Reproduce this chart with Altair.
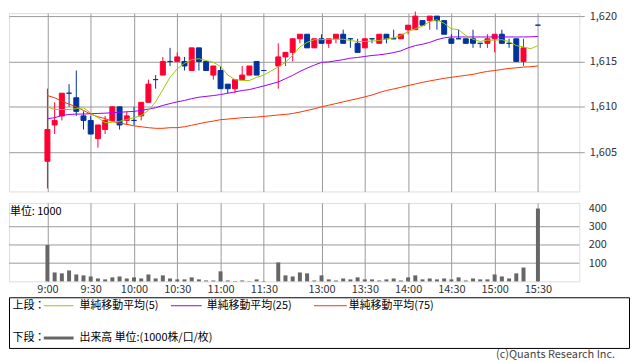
import altair as alt
import pandas as pd

FONT = "Noto Sans CJK JP"

# ---------------- data ----------------
candle_slots = list(range(0, 31)) + list(range(32, 67)) + [68]
opens = [1604, 1608, 1609, 1611.5, 1611, 1609, 1608.5, 1606.5, 1607.5, 1608.5,
         1610, 1608.5, 1608.5, 1609, 1610.5, 1613, 1613.5, 1615, 1615, 1615,
         1614, 1616.5, 1615, 1613.5, 1614, 1612.5, 1612, 1613, 1613.5, 1615,
         1614,
         1614.5, 1615.5, 1616, 1617.5, 1618, 1616.5, 1617.5, 1617, 1617.5, 1618,
         1617.5, 1617, 1616.5, 1617.5, 1617, 1618, 1617.5, 1617.5, 1618.5, 1618.5,
         1619.5, 1619.5, 1620, 1619.5, 1617.5, 1617.5, 1617.5, 1617.5, 1617, 1617,
         1617.5, 1618, 1617, 1617.5, 1615,
         1619]
highs = [1612, 1610.5, 1611.5, 1612.5, 1614, 1609.5, 1609, 1608, 1609, 1610,
         1610, 1609.5, 1610, 1610.5, 1613, 1613.5, 1615.5, 1616.5, 1616, 1615.5,
         1616.5, 1616.5, 1615, 1614.5, 1614.5, 1612.5, 1613, 1614.5, 1614.5, 1615,
         1614,
         1617, 1616, 1617.5, 1618, 1618, 1617.5, 1618, 1617.5, 1618, 1618.5,
         1617.5, 1617.5, 1617.5, 1617.5, 1618, 1618, 1618.5, 1618, 1619, 1620.5,
         1619.5, 1620, 1620, 1619.5, 1618, 1618.5, 1617.5, 1618.5, 1617, 1618,
         1618, 1618.5, 1617.5, 1617.5, 1617.5,
         1619]
lows = [1601, 1607, 1608.5, 1610, 1609, 1607.5, 1607, 1605.5, 1607, 1608.5,
        1607.5, 1608, 1608, 1608.5, 1610.5, 1612, 1613.5, 1614.5, 1615, 1614,
        1614, 1614, 1614, 1613, 1612, 1611.5, 1611.5, 1613, 1613.5, 1613.5,
        1614,
        1612, 1614.5, 1615, 1617, 1616.5, 1616.5, 1617, 1616.5, 1617, 1617,
        1616.5, 1616, 1616.5, 1617, 1617, 1617, 1617.5, 1617.5, 1618, 1618.5,
        1619, 1618.5, 1618.5, 1618, 1617, 1617.5, 1617, 1616.5, 1616.5, 1616.5,
        1616, 1617, 1616.5, 1615, 1614.5,
        1619]
closes = [1607.5, 1608.5, 1611.5, 1611.5, 1609.5, 1608.5, 1607, 1608, 1608.5, 1610,
          1608, 1609, 1608.5, 1610.5, 1612.5, 1613, 1615, 1615, 1615.5, 1614.5,
          1616.5, 1615, 1614, 1614.5, 1612, 1612, 1613, 1613.5, 1614.5, 1613.5,
          1614,
          1615.5, 1616, 1617.5, 1618, 1616.5, 1617.5, 1617, 1617.5, 1618, 1617,
          1617.5, 1616, 1617.5, 1617.5, 1618, 1617.5, 1617.5, 1618, 1619, 1620,
          1619, 1620, 1619.5, 1618, 1617, 1617.5, 1617, 1617, 1617, 1617.5,
          1618, 1617, 1617, 1615, 1616.5,
          1619]
volumes = [200, 49, 44, 60, 38, 33, 27, 16, 11, 22, 27, 16, 22, 16, 38, 16, 33, 16, 11, 11,
           22, 11, 5, 5, 55, 5, 2, 5, 2, 11, 2,
           104, 33, 27, 49, 44, 5,
           33, 11, 5, 16, 11, 22, 11, 11, 5, 11, 16, 5, 22, 33, 11, 16, 11, 16, 11, 22,
           5, 16, 11, 11, 38, 27, 16, 44, 76,
           400]

ma_slots = list(range(0, 31)) + list(range(32, 69))
ma5 = [1610.0, 1609.7, 1609.7, 1609.7, 1609.8, 1609.9, 1609.3, 1608.8, 1608.25, 1608.3,
       1608.4, 1608.6, 1608.8, 1609.05, 1609.6, 1610.55, 1611.9, 1613.25, 1614.2, 1614.8,
       1615.2, 1615.3, 1615.1, 1614.9, 1614.45, 1613.5, 1613.0, 1612.9, 1612.9, 1613.25,
       1613.5,
       1614.4, 1614.9, 1615.7, 1616.6, 1617.1, 1617.4, 1617.4, 1617.45, 1617.45, 1617.45,
       1617.3, 1617.2, 1617.2, 1617.25, 1617.3, 1617.5, 1617.6, 1617.85, 1618.3, 1618.6,
       1618.9, 1619.4, 1619.6, 1619.2, 1618.6, 1618.5, 1617.85, 1617.45, 1617.2, 1617.35,
       1617.35, 1617.4, 1617.2, 1616.75, 1616.6, 1616.4, 1616.75]
ma25 = [1608.7, 1608.8, 1609.05, 1609.15, 1609.2, 1609.2, 1609.25, 1609.27, 1609.3, 1609.35,
        1609.4, 1609.45, 1609.5, 1609.6, 1609.74, 1609.9, 1610.15, 1610.36, 1610.55, 1610.7,
        1610.9, 1611.06, 1611.15, 1611.24, 1611.35, 1611.5, 1611.64, 1611.8, 1611.9, 1612.1,
        1612.3,
        1612.74, 1613.1, 1613.47, 1613.9, 1614.27, 1614.6, 1614.9, 1614.95, 1615.07, 1615.2,
        1615.36, 1615.44, 1615.55, 1615.66, 1615.73, 1615.84, 1615.98, 1616.17, 1616.5, 1616.75,
        1616.9, 1617.1, 1617.4, 1617.6, 1617.7, 1617.7, 1617.7, 1617.7, 1617.7, 1617.7,
        1617.7, 1617.7, 1617.7, 1617.7, 1617.7, 1617.72, 1617.75]
ma75 = [1611.24, 1611.0, 1610.6, 1610.3, 1610.0, 1609.6, 1609.2, 1608.9, 1608.7, 1608.4,
        1608.2, 1608.07, 1607.9, 1607.8, 1607.7, 1607.63, 1607.63, 1607.7, 1607.7, 1607.8,
        1607.96, 1608.14, 1608.3, 1608.43, 1608.58, 1608.65, 1608.72, 1608.8, 1608.83, 1608.87,
        1608.94,
        1609.1, 1609.16, 1609.27, 1609.42, 1609.6, 1609.78, 1610.0, 1610.18, 1610.36, 1610.55,
        1610.73, 1610.9, 1611.1, 1611.3, 1611.57, 1611.8, 1611.97, 1612.15, 1612.34, 1612.52,
        1612.7, 1612.85, 1613.0, 1613.14, 1613.25, 1613.36, 1613.47, 1613.58, 1613.76, 1613.9,
        1614.0, 1614.12, 1614.23, 1614.3, 1614.38, 1614.42, 1614.5]

tick_slots = [0, 6, 12, 18, 24, 30, 38, 44, 50, 56, 62, 68]
tick_labels = ["9:00", "9:30", "10:00", "10:30", "11:00", "11:30",
               "13:00", "13:30", "14:00", "14:30", "15:00", "15:30"]
price_ticks = [1605, 1610, 1615, 1620]
vol_ticks = [100, 200, 300, 400]
vol_grid = [100, 200, 300]

# ---------------- frames ----------------
cdf = pd.DataFrame({"slot": candle_slots, "open": opens, "high": highs,
                    "low": lows, "close": closes})
cdf["dir"] = ["up" if c > o else "down" for o, c in zip(opens, closes)]
vdf = pd.DataFrame({"slot": candle_slots, "volume": volumes})
mdf = pd.DataFrame({"slot": ma_slots, "ma5": ma5, "ma25": ma25, "ma75": ma75})
gdf = pd.DataFrame({"g": vol_grid})

label_expr = ""
for s, l in zip(tick_slots, tick_labels):
    label_expr += f"datum.value == {s} ? '{l}' : "
label_expr += "''"

GRID = "#999999"
PW = 574
xs = alt.Scale(domain=[-4.64, 73.05], nice=False, zero=False)
ys = alt.Scale(domain=[1600.67, 1620.33], nice=False, zero=False)
vs = alt.Scale(domain=[0, 431], nice=False, zero=True)

x_top_axis = alt.Axis(values=tick_slots, grid=True, gridColor=GRID, labels=False,
                      ticks=False, domain=False, title=None)
y_top_axis = alt.Axis(orient="right", values=price_ticks, format=",d", grid=True,
                      gridColor=GRID, tickSize=5, tickColor=GRID, labelPadding=5,
                      domain=False, title=None, labelFont=FONT, labelFontSize=11,
                      labelColor="#333333")
dir_scale = alt.Scale(domain=["up", "down"], range=["#ff0033", "#003399"])

X = alt.X("slot:Q", scale=xs, axis=x_top_axis)

wick = alt.Chart(cdf).mark_rule(strokeWidth=1).encode(
    x=X,
    y=alt.Y("low:Q", scale=ys, axis=y_top_axis),
    y2="high:Q",
    color=alt.Color("dir:N", scale=dir_scale, legend=None),
)
body = alt.Chart(cdf).mark_bar(size=5, strokeWidth=1).encode(
    x=X,
    y=alt.Y("open:Q", scale=ys, axis=y_top_axis),
    y2="close:Q",
    color=alt.Color("dir:N", scale=dir_scale, legend=None),
    stroke=alt.Stroke("dir:N", scale=dir_scale, legend=None),
)


def ma_line(field, color):
    return alt.Chart(mdf).mark_line(strokeWidth=1, color=color).encode(
        x=X, y=alt.Y(f"{field}:Q", scale=ys, axis=y_top_axis))


top = alt.layer(wick, body, ma_line("ma75", "#ff3300"), ma_line("ma25", "#9900ff"),
                ma_line("ma5", "#99cc00")).properties(width=PW, height=179.5)

# ---------------- volume ----------------
x_vol_axis = alt.Axis(values=tick_slots, grid=True, gridColor=GRID, labelExpr=label_expr,
                      ticks=False, domain=False, title=None, labelPadding=2,
                      labelFont=FONT, labelFontSize=11, labelColor="#333333",
                      labelOverlap=False, labelFlush=False)
y_vol_axis = alt.Axis(orient="right", values=vol_ticks, grid=False,
                      ticks=False, labelPadding=9, domain=False,
                      title=None, labelFont=FONT, labelFontSize=11, labelColor="#333333")
vgrid = alt.Chart(gdf).mark_rule(color=GRID, strokeWidth=1).encode(
    y=alt.Y("g:Q", scale=vs, axis=y_vol_axis))
vbars = alt.Chart(vdf).mark_bar(size=4, color="#666666").encode(
    x=alt.X("slot:Q", scale=xs, axis=x_vol_axis),
    y=alt.Y("volume:Q", scale=vs, axis=y_vol_axis),
)
unit = alt.Chart(pd.DataFrame({"t": ["単位: 1000"]})).mark_text(
    align="left", baseline="middle", font=FONT, fontSize=11, color="#000000"
).encode(text="t:N", x=alt.value(1), y=alt.value(9))
vol = alt.layer(vgrid, vbars, unit).properties(width=PW, height=79)

# ---------------- legend box ----------------
one = pd.DataFrame({"k": [0]})


def seg(x1, x2, y, color, w):
    return alt.Chart(one).mark_rule(color=color, strokeWidth=w).encode(
        x=alt.value(x1), x2=alt.value(x2), y=alt.value(y))


def txt(s, x, y, align="left", color="#000000"):
    return alt.Chart(pd.DataFrame({"t": [s]})).mark_text(
        align=align, baseline="middle", font=FONT, fontSize=11, color=color
    ).encode(text="t:N", x=alt.value(x), y=alt.value(y))


r1, r2 = 8.5, 41
legend = alt.layer(
    txt("上段：", 3.5, r1),
    seg(35, 65, r1, "#99cc00", 1), txt("単純移動平均(5)", 71, r1),
    seg(163, 194, r1, "#9900ff", 1), txt("単純移動平均(25)", 199, r1),
    seg(307, 340, r1, "#ff3300", 1), txt("単純移動平均(75)", 342, r1),
    txt("下段：", 3.5, r2),
    seg(35, 65, r2, "#666666", 3), txt("出来高 単位:(1000株/口/枚)", 71, r2),
    txt("(c)Quants Research Inc.", 610, 58, align="right", color="#444444"),
).properties(width=624, height=51,
             view=alt.ViewBackground(stroke="#000000", strokeWidth=1))

chart = alt.vconcat(
    alt.vconcat(top, vol, spacing=10),
    legend,
    spacing=1,
).properties(
    padding={"left": 0, "top": 0, "right": 0, "bottom": 0}
).configure_view(stroke=GRID, strokeWidth=1).configure(
    font=FONT, background="white"
)

chart.save("out.html", embed_options={"renderer": "svg", "actions": False})
